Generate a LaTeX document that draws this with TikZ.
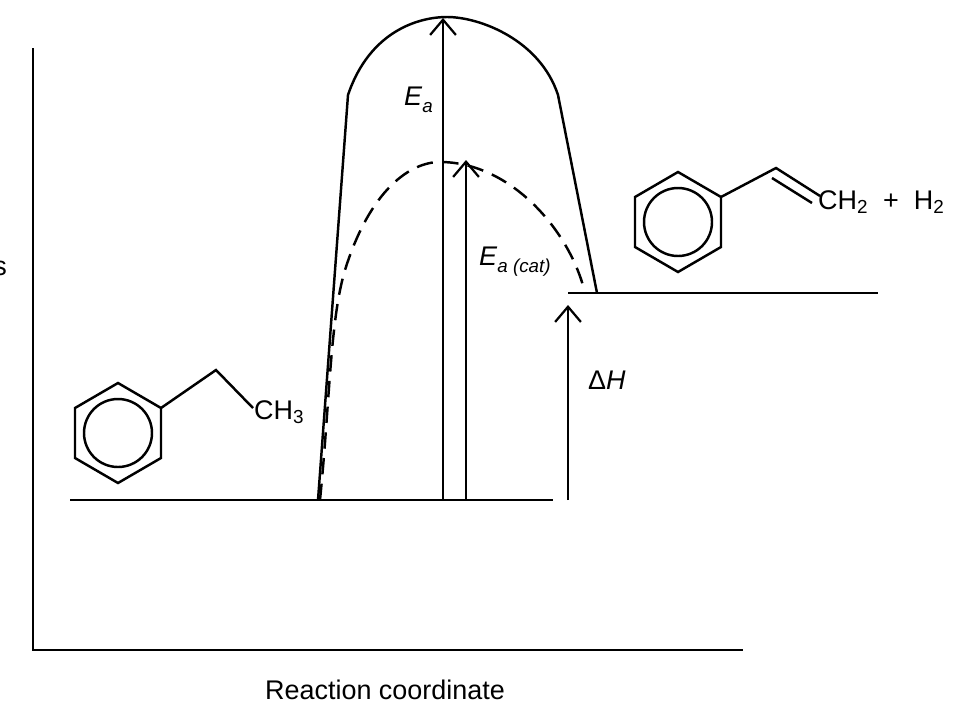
\documentclass[tikz,border=0pt]{standalone}
\usepackage{fontspec}
\setmainfont{Liberation Sans}
\usetikzlibrary{arrows.meta}
\begin{document}
\begin{tikzpicture}[x=0.03cm,y=-0.03cm,line width=2.1pt,
  lbl/.style={inner sep=0pt,font=\fontsize{23}{27}\selectfont},
  ar/.style={-{Straight Barb[length=13pt,width=22pt,line width=1.9pt]}}]
\useasboundingbox (0,0) rectangle (965,722);
\clip (0,0) rectangle (965,722);
% axes
\coordinate (ytop) at (33,48); \coordinate (orig) at (33,650); \coordinate (xend) at (743,650);
\draw (ytop) -- (orig) -- (xend);
\node[lbl,anchor=east] (ylab) at (8,268) {s};
\node[lbl] (xlab) at (385,690) {Reaction coordinate};
% levels
\coordinate (r0) at (70,500); \coordinate (r1) at (553,500);
\coordinate (p0) at (568,293); \coordinate (p1) at (878,293);
\draw (r0) -- (r1); \draw (p0) -- (p1);
% uncatalysed barrier
\draw (318,500) -- (348,95) .. controls (370,30) and (420,17) .. (447,17)
  .. controls (480,17) and (540,40) .. (558,95) -- (597,293);
% catalysed barrier
\draw[dash pattern=on 14pt off 8pt] (320,500) .. controls (330,400) and (330,320) .. (345,270)
  .. controls (370,190) and (410,162) .. (440,162)
  .. controls (510,162) and (570,230) .. (585,293);
% arrows
\coordinate (a1) at (443,500); \coordinate (a1t) at (443,18);
\coordinate (a2) at (466,500); \coordinate (a2t) at (466,160);
\coordinate (a3) at (568,500); \coordinate (a3t) at (568,305);
\draw[ar] (a1) -- (a1t); \draw[ar] (a2) -- (a2t); \draw[ar] (a3) -- (a3t);
\node[lbl,anchor=west] (ea) at (403,100) {\textit{E}\raisebox{-0.5ex}{\fontsize{16}{18}\selectfont\textit{a}}};
\node[lbl,anchor=west] (eac) at (478,262) {\textit{E}\raisebox{-0.5ex}{\fontsize{16}{18}\selectfont\textit{a (cat)}}};
\node[lbl,anchor=west] (dh) at (587,380) {Δ\textit{H}};
% ethylbenzene
\draw (118,383) -- (161,408) -- (161,458) -- (118,483) -- (75,458) -- (75,408) -- cycle;
\draw (118,433) circle (34);
\draw (161,408) -- (216,370) -- (253,408);
\node[lbl,anchor=west] (ch3) at (253,412) {CH\textsubscript{3}};
% styrene
\draw (678,172) -- (721,197) -- (721,247) -- (678,272) -- (635,247) -- (635,197) -- cycle;
\draw (678,222) circle (34);
\draw (721,197) -- (776,168) -- (820,196);
\draw (772,178) -- (812,203);
\node[lbl,anchor=west] (ch2) at (817,202) {CH\textsubscript{2} ~+~ H\textsubscript{2}};
\end{tikzpicture}
\end{document}
